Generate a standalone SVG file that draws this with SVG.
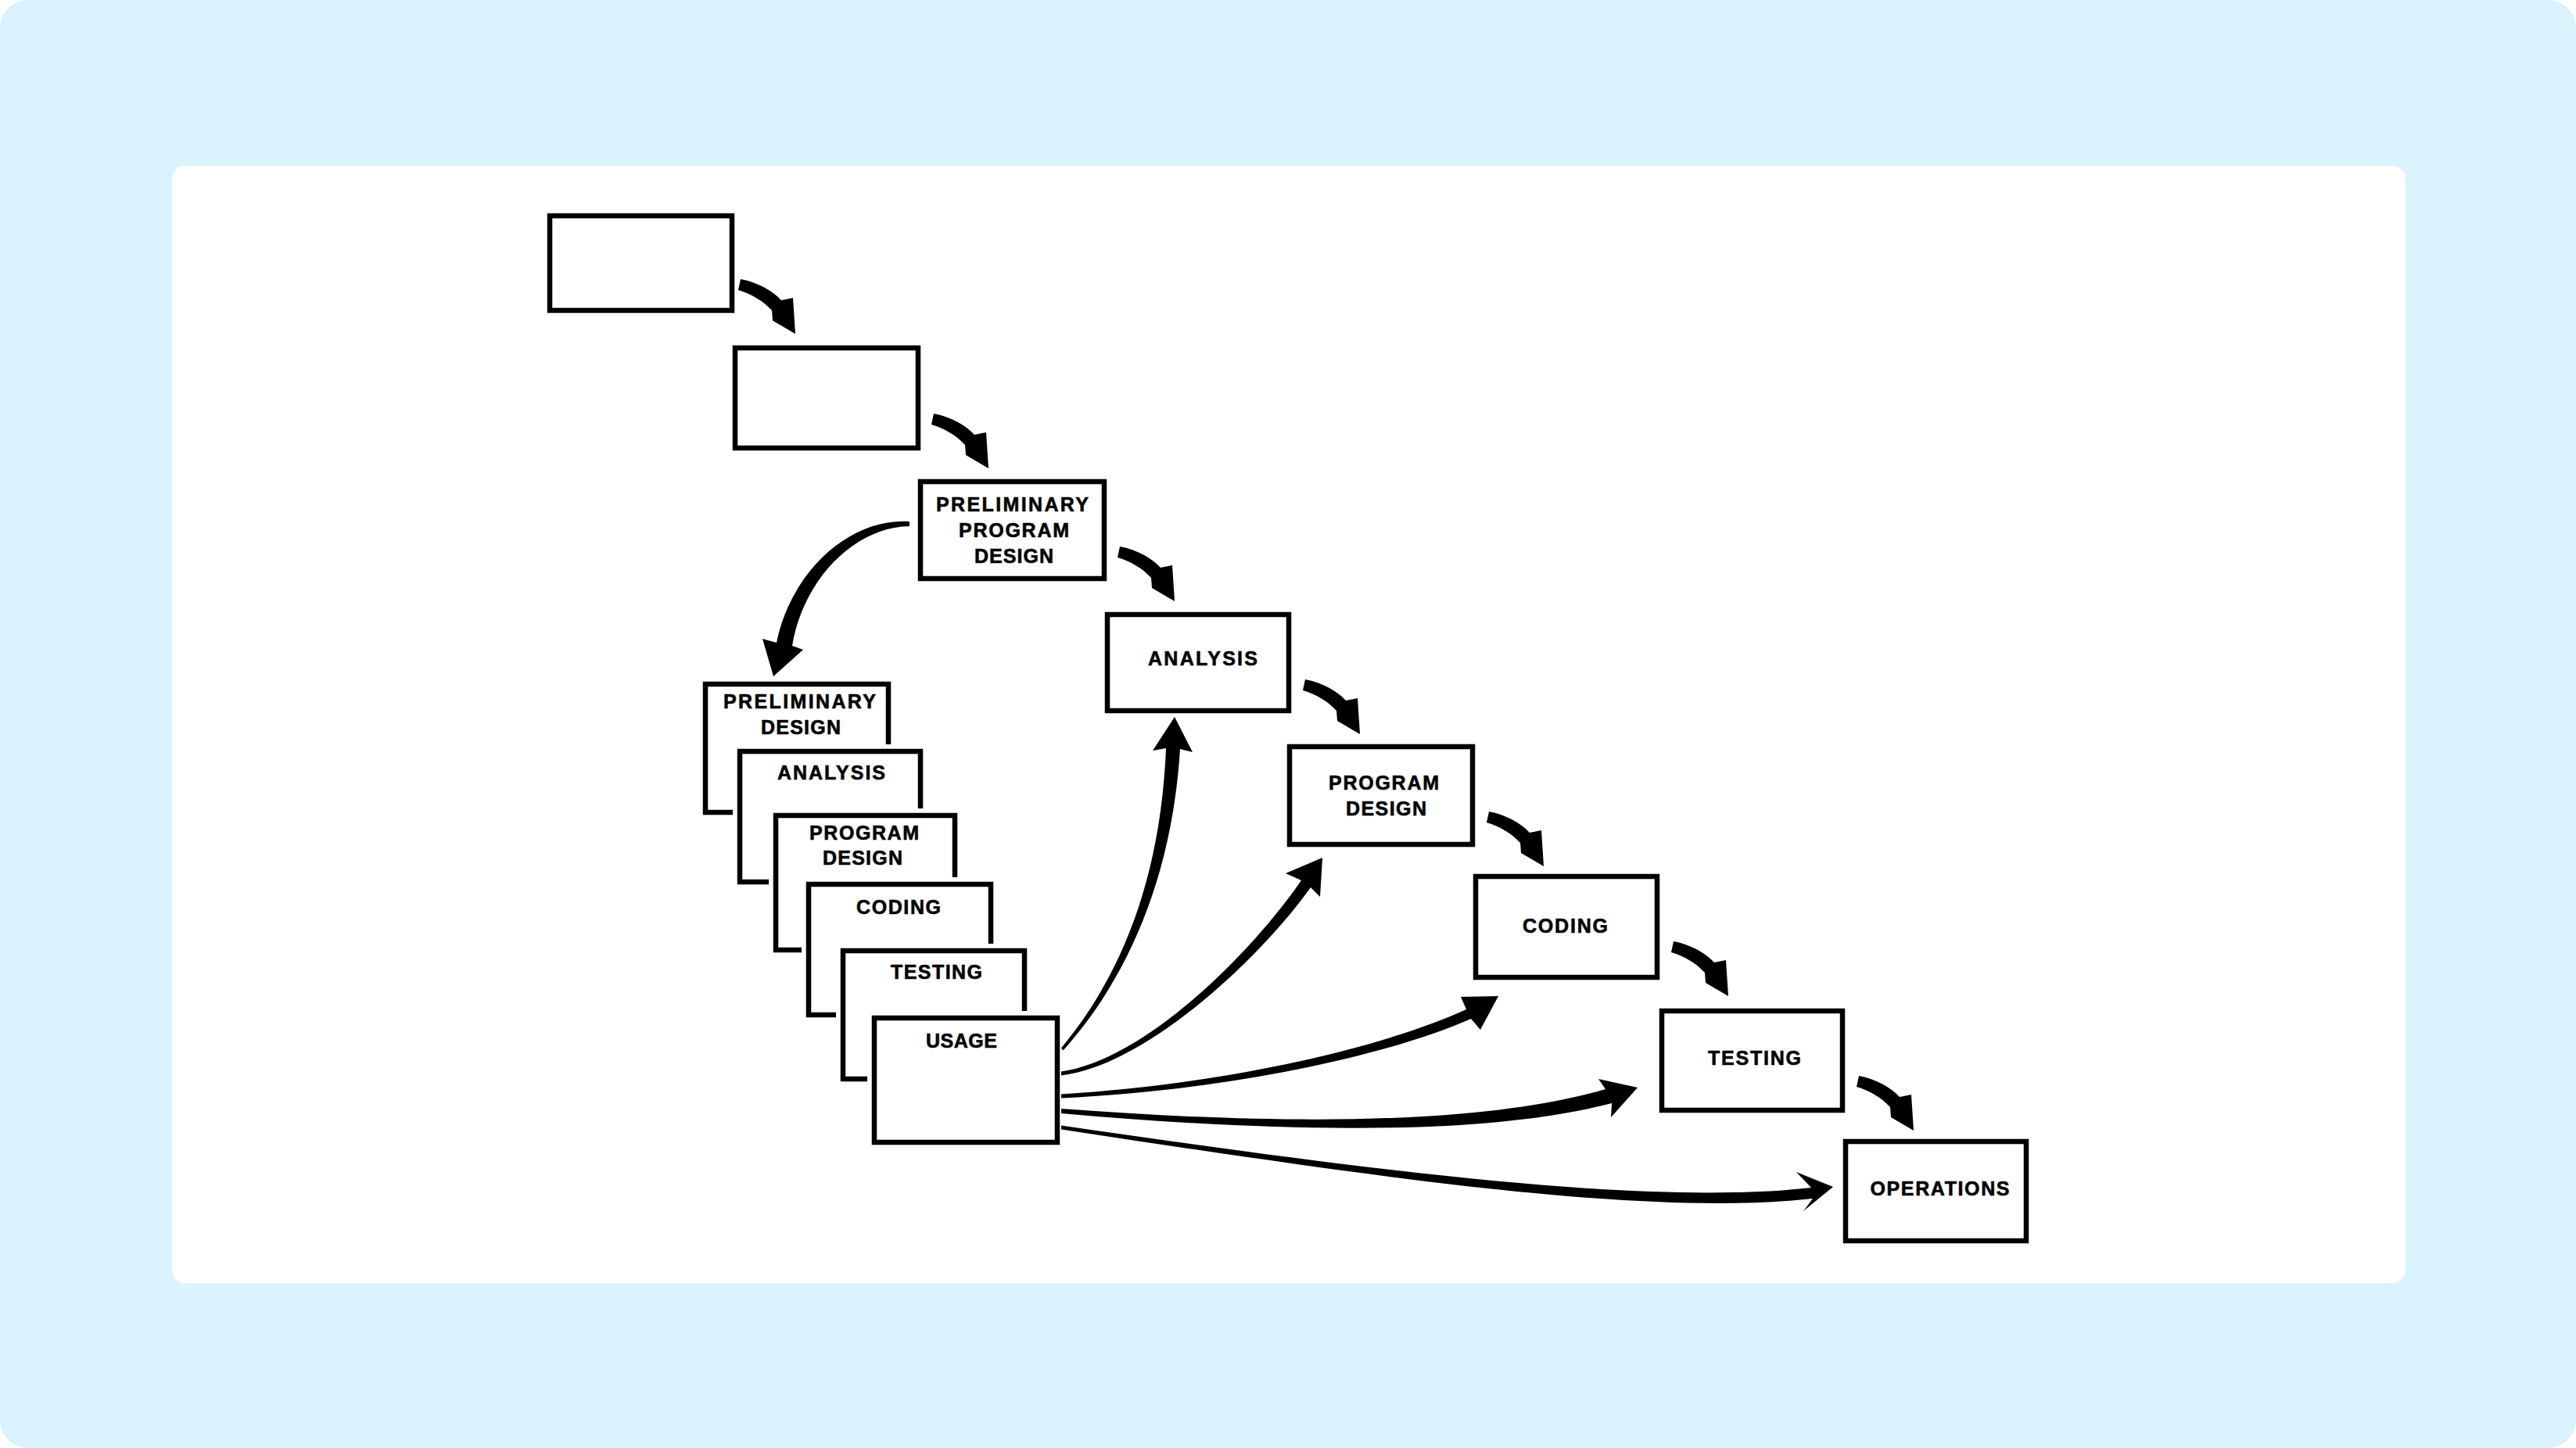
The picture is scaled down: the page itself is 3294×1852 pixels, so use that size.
<svg xmlns="http://www.w3.org/2000/svg" xmlns:xlink="http://www.w3.org/1999/xlink" width="3294" height="1852" viewBox="0 0 3294 1852">
<style>
.box{fill:#fff;stroke:#000;stroke-width:6.5}
.halo{fill:none;stroke:#fff;stroke-width:18}
.lbl{font-family:"Liberation Sans",Arial,Helvetica,sans-serif;font-weight:bold;font-size:25px;text-anchor:middle;fill:#000;stroke:#000;stroke-width:0.6}
.arr{fill:#000;stroke:none}
</style>
<defs>
<path id="step" d="M18,86 C40,90 59,101 70,113 L85,110 L88,156 L59,139 L58,126 C47,114 32,105 15,100 Z"/>
</defs>
<rect x="0" y="0" width="3294" height="1852" fill="#fff"/>
<rect x="0" y="0" width="3294" height="1852" rx="36" fill="#dbf3fe"/>
<rect x="220" y="212" width="2856" height="1429" rx="17" fill="#fff"/>

<g id="node-blank1"><rect class="box" x="703" y="276" width="233" height="121"/></g>
<g id="node-blank2"><rect class="box" x="940" y="445" width="234" height="128"/></g>
<g id="node-preliminary-program-design">
<rect class="box" x="1177" y="616" width="235" height="124"/>
<text class="lbl" x="1294.5" y="654" textLength="195" lengthAdjust="spacing">PRELIMINARY</text>
<text class="lbl" x="1296.5" y="687" textLength="141" lengthAdjust="spacing">PROGRAM</text>
<text class="lbl" x="1296.5" y="720" textLength="101" lengthAdjust="spacing">DESIGN</text>
</g>
<g id="node-analysis">
<rect class="box" x="1416" y="786" width="232" height="123"/>
<text class="lbl" x="1538" y="851" textLength="140" lengthAdjust="spacing">ANALYSIS</text>
</g>
<g id="node-program-design">
<rect class="box" x="1649" y="955" width="234" height="125"/>
<text class="lbl" x="1769.5" y="1010" textLength="141" lengthAdjust="spacing">PROGRAM</text>
<text class="lbl" x="1772.5" y="1043" textLength="103" lengthAdjust="spacing">DESIGN</text>
</g>
<g id="node-coding">
<rect class="box" x="1887" y="1121" width="232" height="129"/>
<text class="lbl" x="2001.5" y="1193" textLength="109" lengthAdjust="spacing">CODING</text>
</g>
<g id="node-testing">
<rect class="box" x="2125" y="1293" width="231" height="127"/>
<text class="lbl" x="2243.5" y="1362" textLength="119" lengthAdjust="spacing">TESTING</text>
</g>
<g id="node-operations">
<rect class="box" x="2360" y="1460" width="231" height="127"/>
<text class="lbl" x="2480.5" y="1529" textLength="178" lengthAdjust="spacing">OPERATIONS</text>
</g>

<g id="node-stack-preliminary-design">
<rect class="box" x="902" y="875" width="234" height="164"/>
<text class="lbl" x="1022.5" y="906" textLength="195" lengthAdjust="spacing">PRELIMINARY</text>
<text class="lbl" x="1024" y="939" textLength="102" lengthAdjust="spacing">DESIGN</text>
</g>
<g id="node-stack-analysis">
<rect class="halo" x="946" y="961" width="231" height="167"/>
<rect class="box" x="946" y="961" width="231" height="167"/>
<text class="lbl" x="1063" y="997" textLength="138" lengthAdjust="spacing">ANALYSIS</text>
</g>
<g id="node-stack-program-design">
<rect class="halo" x="992" y="1043" width="229" height="172"/>
<rect class="box" x="992" y="1043" width="229" height="172"/>
<text class="lbl" x="1105" y="1074" textLength="140" lengthAdjust="spacing">PROGRAM</text>
<text class="lbl" x="1103" y="1106" textLength="102" lengthAdjust="spacing">DESIGN</text>
</g>
<g id="node-stack-coding">
<rect class="halo" x="1034" y="1131" width="233" height="167"/>
<rect class="box" x="1034" y="1131" width="233" height="167"/>
<text class="lbl" x="1149" y="1169" textLength="108" lengthAdjust="spacing">CODING</text>
</g>
<g id="node-stack-testing">
<rect class="halo" x="1078" y="1216" width="232" height="164"/>
<rect class="box" x="1078" y="1216" width="232" height="164"/>
<text class="lbl" x="1197.5" y="1252" textLength="117" lengthAdjust="spacing">TESTING</text>
</g>
<g id="node-stack-usage">
<rect class="halo" x="1118" y="1302" width="234" height="159"/>
<rect class="box" x="1118" y="1302" width="234" height="159"/>
<text class="lbl" x="1229.5" y="1340" textLength="91" lengthAdjust="spacing">USAGE</text>
</g>

<g id="connectors" class="arr">
<use xlink:href="#step" href="#step" transform="translate(929,271)"/>
<use xlink:href="#step" href="#step" transform="translate(1176,443)"/>
<use xlink:href="#step" href="#step" transform="translate(1414,613)"/>
<use xlink:href="#step" href="#step" transform="translate(1651,783)"/>
<use xlink:href="#step" href="#step" transform="translate(1886,952)"/>
<use xlink:href="#step" href="#step" transform="translate(2122,1118)"/>
<use xlink:href="#step" href="#step" transform="translate(2359,1290)"/>
<path d="M1163,667 C1088,662 1012,729 993,822 L975,817 L989,865 L1027,831 L1013,826 C1027,741 1093,674 1163,673 Z"/>
<path d="M1357,1340.5 C1418,1267 1483,1150 1491,957 L1474,960 L1502,917 L1525,962 L1509,958 C1497,1150 1423,1273 1359.5,1343.5 Z"/>
<path d="M1357,1370.5 C1460,1356 1595,1226 1664,1126 L1644,1117 L1691,1097 L1688,1147 L1676,1135 C1605,1234 1460,1364 1357,1375.5 Z"/>
<path d="M1357,1399.5 C1550,1388 1757,1345 1875,1291 L1868,1275 L1916,1274 L1893,1317 L1881,1303 C1763,1355 1550,1396 1357,1404.5 Z"/>
<path d="M1357,1418 C1650,1440 1897,1438 2053,1393 L2044,1380 L2094,1391 L2060,1429 L2061,1411 C1903,1452 1650,1450 1357,1424 Z"/>
<path d="M1357,1439.5 C1750,1496 2100,1543 2316,1519 L2297,1499 L2344,1518 L2306,1549 L2318,1533 C2100,1557 1750,1504 1357,1444.5 Z"/>
</g>
</svg>
